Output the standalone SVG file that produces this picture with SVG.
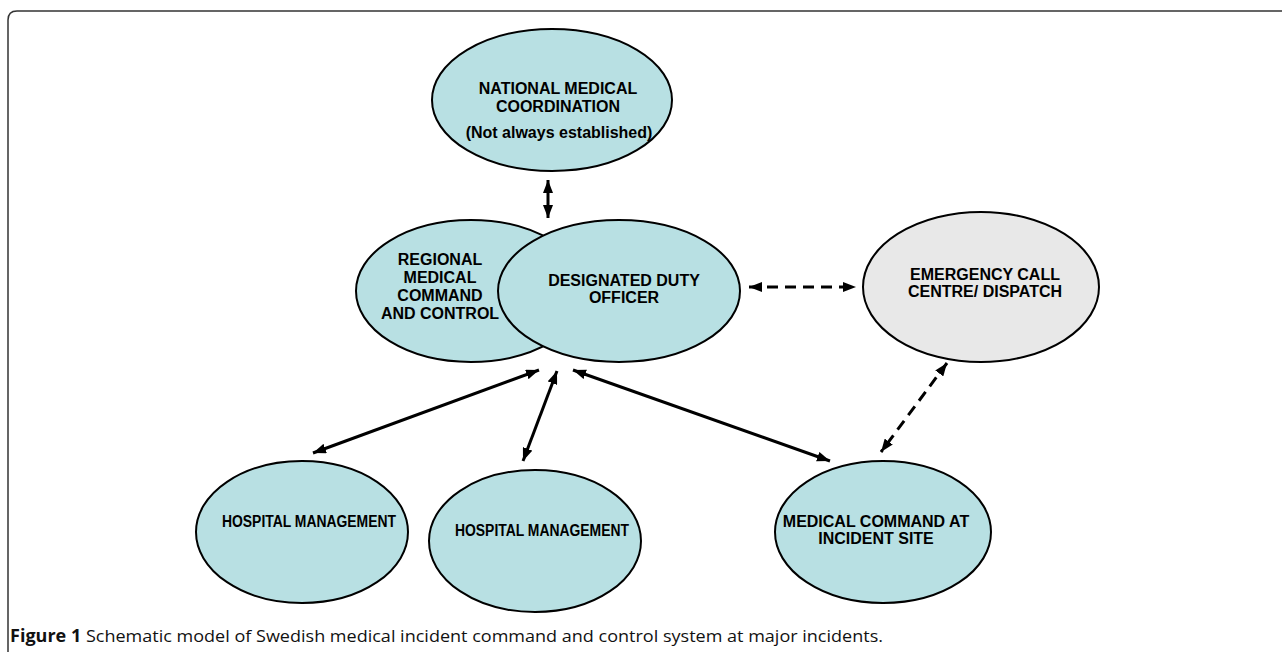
<svg xmlns="http://www.w3.org/2000/svg" width="1282" height="652" viewBox="0 0 1282 652">
<style>
.node{fill:#b8e0e3;stroke:#000;stroke-width:2}
.grey{fill:#e8e8e8;stroke:#000;stroke-width:2}
.t{font-family:"Liberation Sans",Arial,sans-serif;font-weight:bold;font-size:16px;fill:#000;text-anchor:middle}
.c{stroke:#000;stroke-width:3;fill:none}
.d{stroke:#000;stroke-width:3;fill:none;stroke-dasharray:11,7}
.cap{font-family:"Open Sans","Liberation Sans",sans-serif;font-size:17px;fill:#111}
</style>
<defs>
<marker id="ah" viewBox="0 0 13 10" refX="13" refY="5" markerWidth="13" markerHeight="10" markerUnits="userSpaceOnUse" orient="auto-start-reverse">
<path d="M0,0 L13,5 L0,10 z" fill="#000"/>
</marker>
</defs>
<rect width="1282" height="652" fill="#fff"/>
<path d="M8,652 L8,20 Q8,11 17,11 L1282,11" fill="none" stroke="#333" stroke-width="1.5"/>

<g id="connectors">
<line class="c" x1="548" y1="180" x2="548" y2="218" marker-start="url(#ah)" marker-end="url(#ah)"/>
<line class="d" x1="749" y1="287" x2="856" y2="287" marker-start="url(#ah)" marker-end="url(#ah)"/>
<line class="d" x1="947" y1="363" x2="881" y2="452" marker-start="url(#ah)" marker-end="url(#ah)"/>
<line class="c" x1="539" y1="370" x2="313" y2="453" marker-start="url(#ah)" marker-end="url(#ah)"/>
<line class="c" x1="557" y1="371" x2="523" y2="461" marker-start="url(#ah)" marker-end="url(#ah)"/>
<line class="c" x1="573" y1="370" x2="830" y2="461" marker-start="url(#ah)" marker-end="url(#ah)"/>
</g>

<g id="national">
<ellipse class="node" cx="552" cy="100" rx="120" ry="71"/>
<text class="t" x="558" y="94">NATIONAL MEDICAL</text>
<text class="t" x="558" y="112">COORDINATION</text>
<text class="t" x="559" y="138">(Not always established)</text>
</g>

<g id="regional">
<ellipse class="node" cx="471" cy="291" rx="115" ry="71"/>
<text class="t" x="440" y="265">REGIONAL</text>
<text class="t" x="440" y="283">MEDICAL</text>
<text class="t" x="440" y="301">COMMAND</text>
<text class="t" x="440" y="319">AND CONTROL</text>
</g>

<g id="designated">
<ellipse class="node" cx="619" cy="291" rx="121" ry="71"/>
<text class="t" x="624" y="286">DESIGNATED DUTY</text>
<text class="t" x="624" y="303">OFFICER</text>
</g>

<g id="emergency">
<ellipse class="grey" cx="981" cy="287" rx="118" ry="75"/>
<text class="t" x="985" y="280">EMERGENCY CALL</text>
<text class="t" x="985" y="297">CENTRE/ DISPATCH</text>
</g>

<g id="hospital1">
<ellipse class="node" cx="302" cy="532" rx="106" ry="71"/>
<text class="t" x="309" y="527" textLength="174" lengthAdjust="spacingAndGlyphs">HOSPITAL MANAGEMENT</text>
</g>

<g id="hospital2">
<ellipse class="node" cx="535" cy="541" rx="106" ry="71"/>
<text class="t" x="542" y="536" textLength="174" lengthAdjust="spacingAndGlyphs">HOSPITAL MANAGEMENT</text>
</g>

<g id="medical-command">
<ellipse class="node" cx="883" cy="532" rx="108" ry="71"/>
<text class="t" x="876" y="527">MEDICAL COMMAND AT</text>
<text class="t" x="876" y="544">INCIDENT SITE</text>
</g>

<text class="cap" x="10" y="642" textLength="873" lengthAdjust="spacingAndGlyphs"><tspan font-weight="bold">Figure 1</tspan> Schematic model of Swedish medical incident command and control system at major incidents.</text>
</svg>
